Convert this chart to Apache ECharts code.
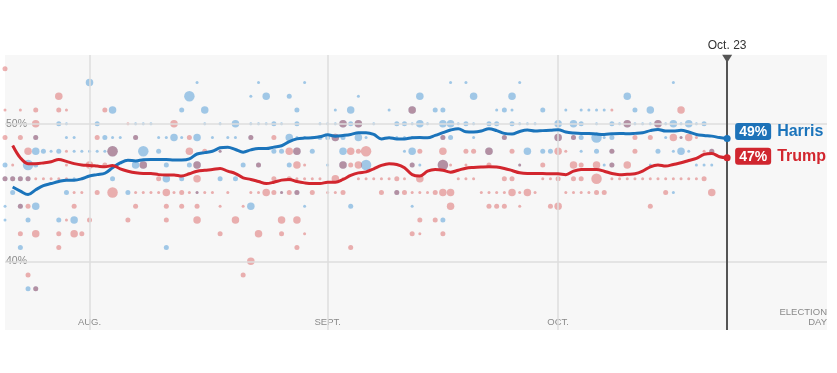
<!DOCTYPE html>
<html><head><meta charset="utf-8">
<script src="https://cdn.jsdelivr.net/npm/echarts@6/dist/echarts.min.js"></script>
<style>html,body{margin:0;padding:0;background:#fff}#c{width:837px;height:373px}</style>
</head><body><div id="c"></div>
<script>
// x = days since July 21
const monthTickDays = [11, 42, 72];
const monthTickLabels = ['AUG.', 'SEPT.', 'OCT.'];
const electionDay = 107;
const electionLabel = 'ELECTION\nDAY';
const todayDay = 94;
const todayLabel = 'Oct. 23';
const yTicks = [40, 50];
const harrisLabel = '49%';
const trumpLabel = '47%';

// polling averages, day 1 .. day 94
const harrisAvg = [45.4,45.1,44.85,45.2,45.5,45.65,45.8,45.9,45.9,46.0,46.2,46.3,46.4,46.8,47.15,47.35,47.3,47.38,47.4,47.4,
47.4,47.37,47.37,47.45,47.8,47.9,48.0,48.25,48.3,48.13,47.93,48.1,48.2,48.2,48.3,48.4,48.7,48.9,48.96,48.98,
49.05,49.2,49.1,49.15,49.22,49.35,49.35,49.22,48.9,48.98,48.9,48.9,48.98,49.0,48.98,49.15,49.35,49.54,49.64,49.42,
49.4,49.47,49.64,49.5,49.3,49.25,49.44,49.54,49.47,49.5,49.52,49.56,49.4,49.33,49.3,49.3,49.25,49.22,49.27,49.3,
49.27,49.3,49.35,49.5,49.59,49.47,49.47,49.52,49.4,49.22,49.15,49.1,49.0,48.93];
const trumpAvg = [48.42,47.52,47.1,47.1,47.15,47.23,47.4,47.26,47.1,47.0,46.97,46.92,46.87,46.97,46.72,46.55,46.43,46.38,46.38,46.3,
46.28,46.28,46.2,46.36,46.55,46.62,46.67,46.75,46.55,46.38,46.07,45.95,45.8,45.65,45.75,45.9,45.95,45.8,45.7,45.65,
45.65,45.75,45.75,45.95,46.24,46.43,46.5,46.72,46.97,47.09,47.04,46.8,46.3,46.2,46.55,46.67,46.62,46.48,46.62,46.77,
46.82,46.85,46.87,46.85,46.75,46.6,46.43,46.38,46.38,46.38,46.36,46.36,46.3,46.55,46.67,46.67,46.67,46.55,46.38,46.3,
46.33,46.36,46.55,46.87,47.0,46.92,47.04,47.16,47.33,47.48,47.77,47.84,47.6,47.52];

// individual polls: [day, percent, weight 1..4]
const harrisPolls = [
[11,53,3],[14,51,3],[7,50,2],[8,50,1],[12,50,2],[17,50,1],[18,50,1],
[4,49,2],[8,49,1],[9,49,1],[13,49,2],[14,49,1],[15,49,1],[17,49,2],
[4,48,3],[5,48,2],[6,48,1],[7,48,2],[9,48,1],[10,48,1],[11,48,1],[12,48,1],[13,48,1],[14,48,4],[18,48,4],
[0,47,2],[3,47,4],[4,47,2],[17,47,3],
[0,46,2],[1,46,2],[2,46,2],[3,46,2],[9,46,1],[14,46,2],
[1,45,2],[8,45,2],[16,45,2],[0,44,1],[2,44,2],[4,44,3],
[0,43,1],[3,43,2],[7,43,2],[9,43,3],[2,41,2],[3,38,2],[4,38,2],
[25,53,1],[33,53,1],[24,52,4],[32,52,1],[34,52,3],[23,51,2],[26,51,3],
[19,50,1],[26,50,1],[28,50,1],[30,50,3],[32,50,1],[33,50,1],[34,50,1],[35,50,2],[36,50,1],
[20,49,1],[21,49,1],[22,49,3],[23,49,1],[25,49,3],[27,49,1],[29,49,1],[30,49,1],[32,49,2],
[20,48,2],[28,48,1],[35,48,2],[36,48,2],
[18,47,3],[21,47,2],[24,47,2],[25,47,3],[31,47,2],[33,47,2],
[21,46,3],[23,46,2],[28,46,2],[30,46,2],[25,45,1],[36,45,1],[32,44,3],[21,41,2],
[39,53,1],[37,52,2],[46,52,1],[54,52,3],[38,51,2],[43,51,1],[45,51,3],[50,51,1],[53,51,3],
[38,50,2],[41,50,1],[42,50,1],[43,50,1],[44,50,3],[45,50,2],[46,50,3],[48,50,1],[51,50,2],[52,50,2],[53,50,1],[54,50,3],
[37,49,3],[38,49,1],[39,49,1],[40,49,1],[41,49,2],[42,49,2],[43,49,3],[44,49,2],[46,49,3],[47,49,1],[51,49,1],[52,49,1],[53,49,1],
[38,48,3],[40,48,2],[44,48,3],[52,48,1],[53,48,3],
[37,47,2],[42,47,1],[44,47,3],[47,47,4],[53,47,2],[38,45,2],[51,45,2],[39,44,1],[45,44,2],[53,44,1],
[58,53,1],[60,53,1],[67,53,1],[61,52,3],[66,52,3],
[56,51,2],[57,51,2],[64,51,1],[65,51,2],[66,51,1],[70,51,2],
[55,50,1],[57,50,3],[58,50,3],[59,50,1],[60,50,2],[61,50,1],[63,50,2],[64,50,2],[66,50,2],[67,50,1],[68,50,1],[69,50,1],[72,50,3],
[57,49,2],[58,49,2],[61,49,1],[65,49,2],[72,49,3],
[63,48,3],[68,48,3],[70,48,2],[71,48,2],[54,47,1],[57,47,4],[67,47,1],[57,43,2],
[87,53,1],[81,52,3],
[73,51,1],[75,51,1],[76,51,1],[77,51,1],[78,51,1],[82,51,2],[84,51,3],
[74,50,3],[75,50,2],[77,50,1],[79,50,2],[80,50,1],[81,50,3],[82,50,1],[83,50,1],[84,50,1],[85,50,3],[86,50,1],[87,50,3],[88,50,1],[89,50,3],[90,50,1],[91,50,2],
[74,49,2],[75,49,2],[77,49,4],[78,49,1],[79,49,2],[86,49,1],[88,49,1],
[75,48,1],[77,48,2],[79,48,2],[85,48,2],[87,48,1],[88,48,3],[89,48,1],[92,48,2],
[78,47,1],[79,47,2],[84,47,1],[90,47,1],[91,47,1],[92,47,1],[87,45,1]
];
const trumpPolls = [
[0,54,2],[7,52,3],[0,51,1],[2,51,1],[4,51,2],[7,51,2],[8,51,1],[13,51,2],
[4,50,3],[16,50,1],[0,49,2],[2,49,2],[4,49,2],[12,49,2],[17,49,2],
[3,48,3],[8,48,1],[14,48,4],[1,47,1],[8,47,1],[11,47,3],[13,47,2],[18,47,3],
[0,46,2],[1,46,2],[2,46,2],[3,46,2],[4,46,1],[5,46,1],[6,46,1],[7,46,1],[8,46,1],[10,46,1],
[9,45,1],[10,45,1],[12,45,2],[14,45,4],[17,45,1],
[2,44,2],[3,44,2],[9,44,2],[17,44,2],[8,43,1],[11,43,2],[16,43,2],
[2,42,2],[4,42,3],[7,42,2],[9,42,3],[10,42,2],[7,41,2],[3,39,2],[4,38,2],
[22,50,3],[24,49,2],[32,49,2],[35,49,2],[24,48,3],[26,48,2],[28,48,1],[25,47,3],[33,47,2],
[20,46,2],[25,46,3],[35,46,2],
[18,45,1],[19,45,1],[20,45,1],[21,45,3],[22,45,1],[23,45,2],[24,45,1],[25,45,1],[26,45,1],[27,45,1],[29,45,1],[32,45,1],[33,45,1],[34,45,3],[35,45,2],[36,45,1],
[21,44,2],[23,44,2],[25,44,2],[28,44,1],[31,44,1],[21,43,2],[25,43,3],[30,43,3],[36,43,3],
[28,42,2],[33,42,3],[36,42,2],[32,40,3],[31,39,2],
[53,51,3],[44,50,3],[46,50,3],[43,49,3],
[37,48,3],[38,48,3],[45,48,3],[46,48,2],[47,48,4],[54,48,2],
[38,47,3],[39,47,1],[44,47,3],[45,47,2],[46,47,3],[53,47,2],
[37,46,2],[38,46,1],[39,46,1],[40,46,1],[41,46,1],[43,46,3],[44,46,1],[46,46,1],[47,46,1],[48,46,1],[49,46,1],[50,46,1],[51,46,2],[52,46,1],[54,46,3],
[37,45,2],[38,45,2],[40,45,2],[42,45,1],[43,45,1],[44,45,2],[49,45,2],[51,45,2],[52,45,2],[53,45,1],[54,45,1],
[38,43,3],[54,43,2],[39,42,1],[53,42,2],[54,42,1],[38,41,2],[45,41,2],
[57,49,2],[65,49,2],[72,49,3],
[57,48,3],[60,48,2],[61,48,2],[63,48,3],[66,48,2],[72,48,3],
[57,47,4],[58,47,1],[60,47,1],[63,47,2],[67,47,1],[70,47,2],
[59,46,1],[60,46,1],[61,46,1],[65,46,2],[66,46,2],[70,46,1],[71,46,1],[72,46,2],
[55,45,1],[56,45,2],[57,45,3],[58,45,3],[62,45,1],[63,45,1],[64,45,1],[65,45,1],[66,45,3],[67,45,1],[68,45,3],[69,45,1],
[58,44,3],[63,44,2],[64,44,2],[65,44,2],[67,44,1],[71,44,2],[72,44,3],[56,43,2],[57,42,2],
[79,51,1],[88,51,3],[81,50,3],[85,50,3],
[74,49,2],[82,49,2],[84,49,2],[87,49,3],[88,49,1],[89,49,3],[90,49,1],
[73,48,1],[79,48,2],[82,48,2],[91,48,1],[92,48,2],
[74,47,3],[75,47,2],[77,47,3],[79,47,2],[81,47,3],
[74,46,2],[75,46,2],[77,46,4],[79,46,1],[80,46,1],[81,46,1],[82,46,1],[83,46,1],[84,46,1],[85,46,1],[86,46,1],[87,46,1],[88,46,1],[89,46,1],[90,46,1],[91,46,2],
[73,45,1],[74,45,1],[75,45,1],[76,45,1],[77,45,2],[78,45,2],[86,45,2],[92,45,3],[84,44,2]
];

const dotSize = {1: 3, 2: 5, 3: 7.5, 4: 10.5};
const HBLUE = '#1b74bb', TRED = '#d2262e';
const FONT = '"Liberation Sans", Arial, Helvetica, sans-serif';

const chart = echarts.init(document.getElementById('c'), null, {renderer: 'canvas'});
const toLine = arr => arr.map((v, i) => [i + 1, v]);
const endSym = arr => (v, p) => (p.dataIndex === arr.length - 1 ? 7 : 0);

chart.setOption({
  animation: false,
  textStyle: {fontFamily: FONT},
  grid: {left: 5, right: 10, top: 55, bottom: 43, show: true, backgroundColor: '#f7f7f7', borderWidth: 0},
  xAxis: {
    type: 'value', min: 0, max: electionDay,
    axisLine: {show: false}, axisTick: {show: false}, splitLine: {show: false},
    axisLabel: {
      inside: true, margin: 3, customValues: monthTickDays.concat([electionDay]),
      alignMaxLabel: 'right',
      color: '#8a8a8a', fontSize: 9.5, lineHeight: 10, verticalAlign: 'bottom', fontFamily: FONT,
      formatter: v => { const i = monthTickDays.indexOf(v); return i >= 0 ? monthTickLabels[i] : electionLabel; }
    }
  },
  yAxis: {
    type: 'value', min: 35, max: 55,
    axisLine: {show: false}, axisTick: {show: false}, splitLine: {show: false},
    axisLabel: {inside: true, margin: 1, customValues: yTicks, formatter: '{value}%', color: '#8a8a8a', fontSize: 10.5, fontFamily: FONT}
  },
  series: [
    {
      type: 'line', data: [], silent: true, z: 1,
      markLine: {
        silent: true, symbol: 'none', animation: false, label: {show: false},
        lineStyle: {color: '#dedede', width: 1.5, type: 'solid'},
        data: monthTickDays.map(d => ({xAxis: d})).concat(yTicks.map(y => ({yAxis: y})))
      }
    },
    {
      type: 'scatter', data: harrisPolls, z: 2, silent: true,
      symbolSize: v => dotSize[v[2]],
      itemStyle: {color: 'rgba(50,138,210,0.55)'}
    },
    {
      type: 'scatter', data: trumpPolls, z: 2, silent: true,
      symbolSize: v => dotSize[v[2]],
      itemStyle: {color: 'rgba(212,58,58,0.48)'}
    },
    {
      type: 'line', data: [], silent: true, z: 3,
      markLine: {
        silent: true, animation: false,
        symbol: ['none', 'path://M0,0L10,0L5,8Z'], symbolSize: [10, 8],
        lineStyle: {color: '#555', width: 2, type: 'solid'},
        itemStyle: {color: '#111'},
        label: {show: true, position: 'end', formatter: todayLabel, color: '#333', fontSize: 12, distance: 7, fontFamily: FONT},
        data: [[{coord: [todayDay, 35]}, {coord: [todayDay, 54.72]}]]
      }
    },
    {
      type: 'line', name: 'Harris', data: toLine(harrisAvg), z: 5, smooth: 0.35,
      symbol: 'circle', symbolSize: endSym(harrisAvg), showSymbol: true,
      itemStyle: {color: HBLUE}, lineStyle: {color: HBLUE, width: 3},
      endLabel: {
        show: true, distance: 8, offset: [0, -7],
        formatter: () => '{box|' + harrisLabel + '}{name|Harris}',
        rich: {
          box: {backgroundColor: '#1d72b8', color: '#fff', fontWeight: 'bold', fontSize: 14, lineHeight: 16, padding: [2, 4, 1, 4], borderRadius: 3, fontFamily: FONT},
          name: {color: HBLUE, fontWeight: 'bold', fontSize: 16, padding: [0, 0, 0, 6], fontFamily: FONT}
        }
      }
    },
    {
      type: 'line', name: 'Trump', data: toLine(trumpAvg), z: 5, smooth: 0.35,
      symbol: 'circle', symbolSize: endSym(trumpAvg), showSymbol: true,
      itemStyle: {color: TRED}, lineStyle: {color: TRED, width: 3},
      endLabel: {
        show: true, distance: 8, offset: [0, -1.5],
        formatter: () => '{box|' + trumpLabel + '}{name|Trump}',
        rich: {
          box: {backgroundColor: '#d0262f', color: '#fff', fontWeight: 'bold', fontSize: 14, lineHeight: 16, padding: [2, 4, 1, 4], borderRadius: 3, fontFamily: FONT},
          name: {color: TRED, fontWeight: 'bold', fontSize: 16, padding: [0, 0, 0, 6], fontFamily: FONT}
        }
      }
    }
  ]
});
</script>
</body></html>
